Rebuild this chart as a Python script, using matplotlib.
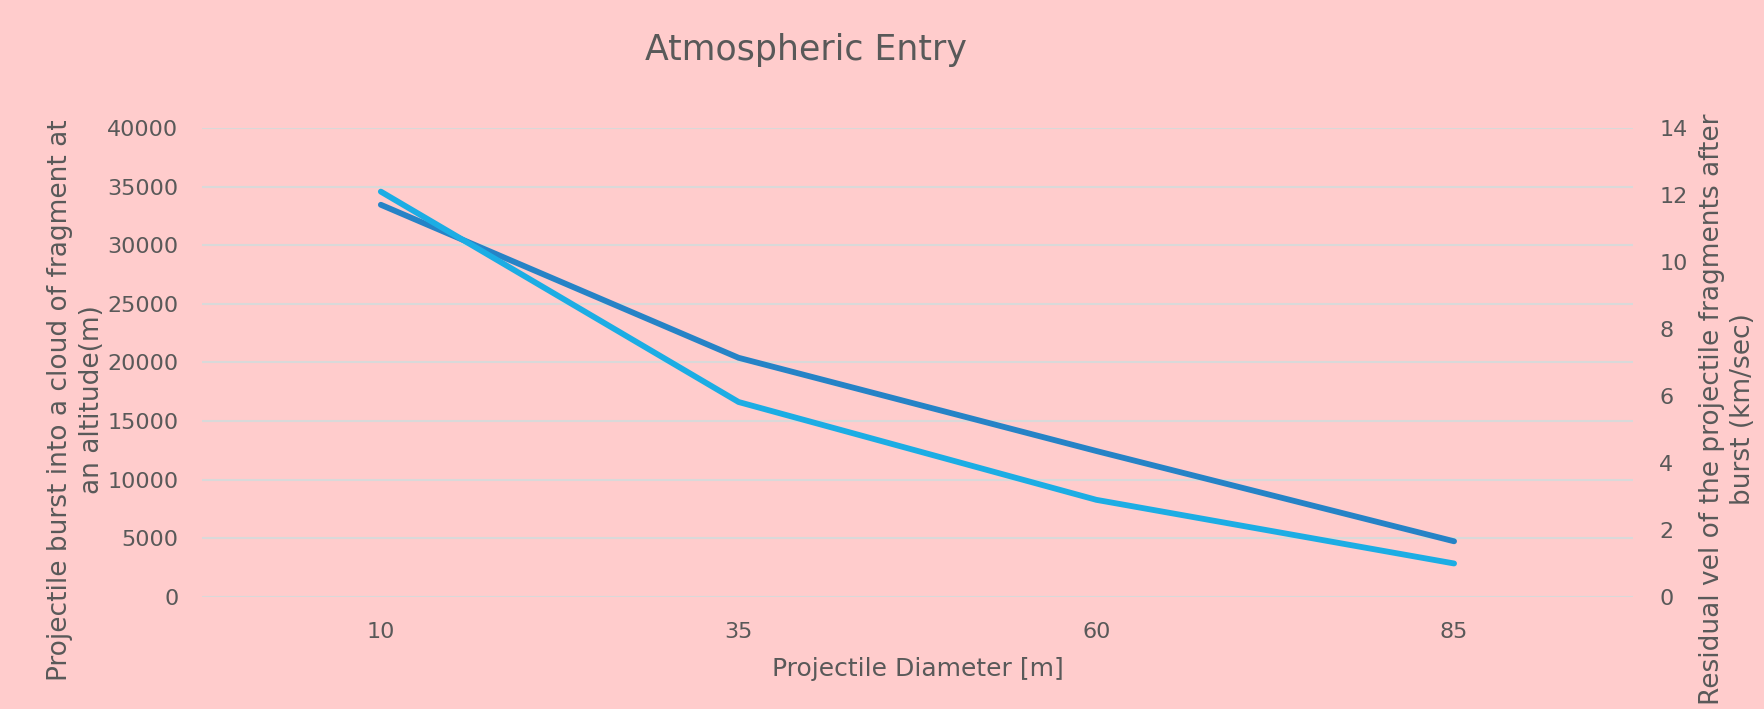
import matplotlib
matplotlib.use("Agg")
import matplotlib.pyplot as plt

diameters = ["10", "35", "60", "85"]
burst_altitude = [33450, 20400, 12450, 4750]
residual_vel = [12.1, 5.82, 2.9, 1.0]

bg = "#FFCCCC"
txt = "#595959"
dark_blue = "#2683C6"
light_blue = "#1CADE4"

plt.rcParams["font.family"] = ["DejaVu Sans"]

fig = plt.figure(figsize=(17.64, 7.09), dpi=100, facecolor=bg)
ax = fig.add_axes([0.1145, 0.158, 0.8112, 0.6615], facecolor=bg)
ax2 = ax.twinx()

x = range(len(diameters))
ax.plot(x, burst_altitude, color=dark_blue, lw=4.2, solid_capstyle="round", zorder=3)
ax2.plot(x, residual_vel, color=light_blue, lw=4.2, solid_capstyle="round", zorder=3)

ax.set_xlim(-0.5, len(diameters) - 0.5)
ax.set_xticks(list(x))
ax.set_xticklabels(diameters)
ax.set_ylim(0, 40000)
ax.set_yticks(range(0, 40001, 5000))
ax2.set_ylim(0, 14)
ax2.set_yticks(range(0, 15, 2))

ax.grid(axis="y", color="#D9D9D9", lw=1.5)
ax.set_axisbelow(True)
for a in (ax, ax2):
    for s in a.spines.values():
        s.set_visible(False)
    a.tick_params(length=0, labelsize=16, colors=txt)
ax.tick_params(axis="y", pad=17)
ax.tick_params(axis="x", pad=18)
ax2.tick_params(axis="y", pad=19)

ax.set_xlabel("Projectile Diameter [m]", fontsize=18, color=txt, labelpad=11)
ax.set_ylabel("Projectile burst into a cloud of fragment at\nan altitude(m)",
              fontsize=19, color=txt, linespacing=1.3)
ax.yaxis.set_label_coords(-0.068, 0.42)
ax2.set_ylabel("Residual vel of the projectile fragments after\nburst (km/sec)",
               fontsize=19, color=txt, linespacing=1.25)
ax2.yaxis.set_label_coords(1.046, 0.40)

fig.text(0.457, 0.915, "Atmospheric Entry", fontsize=25, color=txt,
         ha="center", va="baseline")

fig.savefig("out.png", dpi=100, facecolor=bg)
